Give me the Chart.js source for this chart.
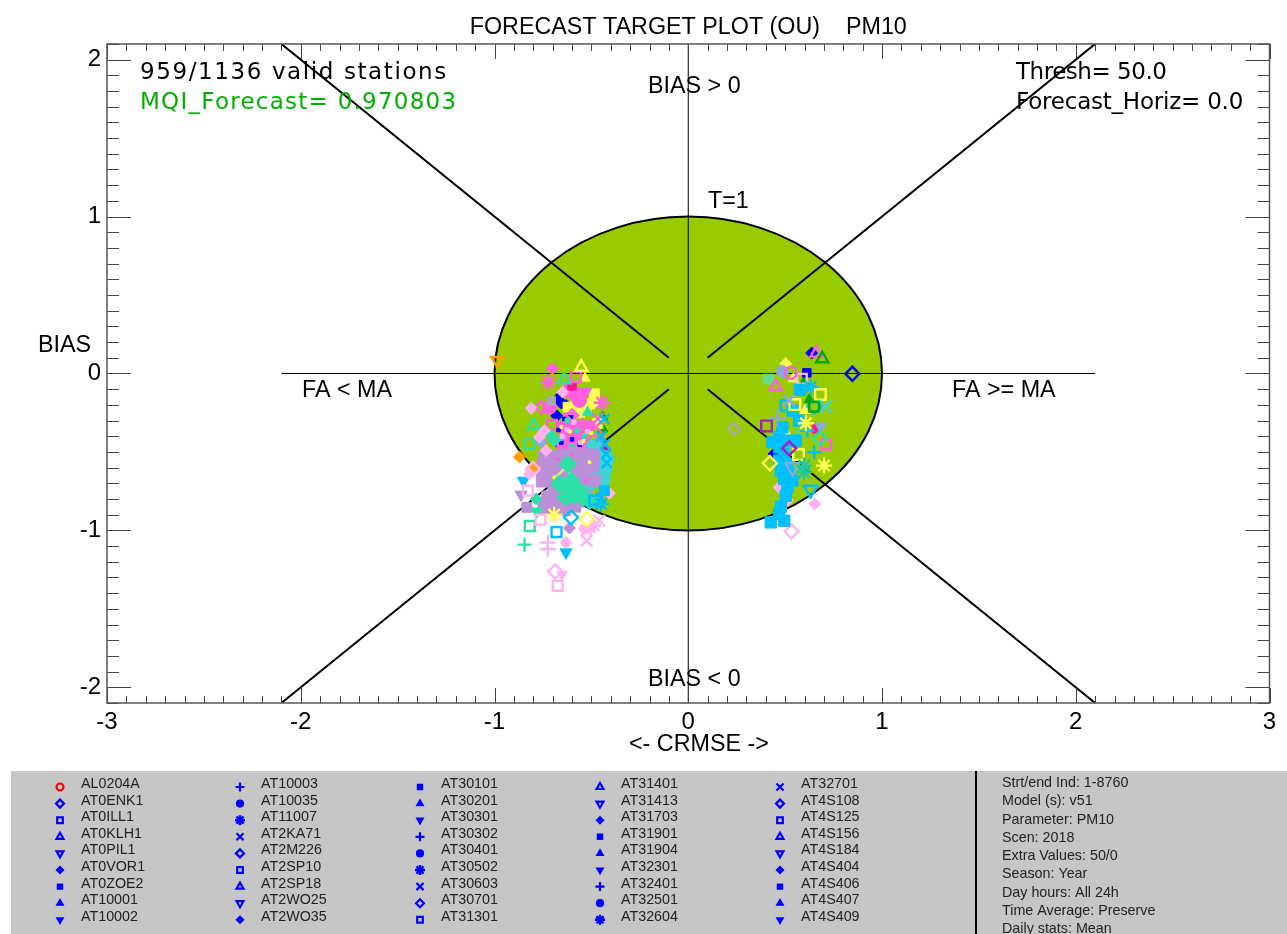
<!DOCTYPE html>
<html>
<head>
<meta charset="utf-8">
<title>Forecast target plot</title>
<script src="https://cdn.jsdelivr.net/npm/chart.js@4"></script>
<style>
html, body { margin: 0; padding: 0; background: #fff; }
canvas { display: block; }
</style>
</head>
<body>
<canvas id="target" width="1287" height="934"></canvas>
<script>
// reference lines of the target diagram
const guideStart = 0.1;
const guideEnd = 2.1;

// station points, grouped by colour and marker
const greenTriX = [-0.442, -0.442, 0.598, 0.624];
const greenTriY = [-0.279, -0.353, -0.055, -0.168];
const blueDiamondX = [-0.656, -0.679, -0.665, -0.674, -0.631, 0.637, 0.443, -0.6];
const blueDiamondY = [-0.187, -0.27, -0.449, -0.162, -0.204, 0.13, -0.513, -0.25];
const blueSquareX = [0.612, -0.751];
const blueSquareY = [0.004, -0.555];
const purpleSmallX = [-0.44];
const purpleSmallY = [-0.474];
const yellowRectX = [-0.485, -0.579, -0.527, -0.485, -0.51, -0.553, -0.467, -0.562, -0.62];
const yellowRectY = [-0.13, -0.204, -0.215, -0.183, -0.194, -0.194, -0.32, -0.25, -0.215];
const yellowTriX = [-0.533, 0.507, 0.543, 0.603];
const yellowTriY = [-0.03, -0.381, -0.034, -0.236];
const pinkCircleX = [-0.596, -0.622, -0.562, -0.716, -0.57];
const pinkCircleY = [-0.119, -0.109, -0.172, -0.215, -0.151];
const pinkInvX = [-0.531, -0.553, 0.512];
const pinkInvY = [-0.119, -0.162, -0.417];
const crimsonX = [-0.6, 0.662];
const crimsonY = [-0.079, -0.353];
const paleFillX = [-0.648, -0.811, -0.768, -0.742, -0.734, -0.82, -0.631, -0.536, -0.502, -0.407, 0.653, 0.469, 0.512];
const paleFillY = [-0.119, -0.221, -0.406, -0.364, -0.491, -0.64, -1.077, -0.991, -0.981, -0.764, -0.832, -0.726, -0.811];
const pinkBlobX = [-0.648, -0.605, -0.562, -0.639, -0.579, -0.622, -0.545, -0.656, -0.51, -0.59, -0.53];
const pinkBlobY = [-0.332, -0.332, -0.332, -0.385, -0.396, -0.449, -0.406, -0.46, -0.33, -0.44, -0.46];
const pinkCrossX = [-0.467, -0.51, -0.562, -0.631, -0.476, -0.46];
const pinkCrossY = [-0.289, -0.364, -0.396, -0.428, -0.34, -0.42];
const pinkStarX = [-0.722, -0.445, -0.596, -0.545, -0.639, -0.527];
const pinkStarY = [-0.055, -0.187, -0.353, -0.332, -0.406, -0.428];
const pinkSquareX = [-0.579, -0.704, -0.613, 0.711];
const pinkSquareY = [-0.023, -0.328, -0.289, -0.453];
const pinkDiamondOpenX = [-0.759, -0.6];
const pinkDiamondOpenY = [-0.215, -0.268];
const pinkDiamondX = [-0.701];
const pinkDiamondY = [0.03];
const tealOpenTriX = [-0.641, -0.797];
const tealOpenTriY = [-0.04, -0.33];
const tealOpenSquareX = [-0.82, -0.818];
const tealOpenSquareY = [-0.449, -0.972];
const tealBlobX = [-0.45, -0.485, -0.433, -0.467, -0.485, -0.442, -0.51, -0.502, -0.424, -0.485];
const tealBlobY = [-0.534, -0.577, -0.609, -0.662, -0.523, -0.672, -0.64, -0.694, -0.545, -0.47];
const cyanCrossX = [-0.433, -0.424, -0.45, -0.45, -0.43, -0.42];
const cyanCrossY = [-0.289, -0.513, -0.79, -0.4, -0.45, -0.57];
const mintTriX = [-0.519];
const mintTriY = [-0.247];
const lilacBlobX = [-0.708, -0.648, -0.588, -0.527, -0.725, -0.665, -0.605, -0.545, -0.493, -0.708, -0.656, -0.588, -0.527, -0.691, -0.622, -0.562, -0.725, -0.674, -0.622, -0.57, -0.527, -0.725, -0.562, -0.742, -0.648, -0.742, -0.691, -0.639, -0.588, -0.751, -0.751, -0.742, -0.493, -0.485];
const lilacBlobY = [-0.534, -0.523, -0.513, -0.523, -0.609, -0.587, -0.587, -0.587, -0.587, -0.672, -0.662, -0.651, -0.64, -0.747, -0.726, -0.726, -0.832, -0.832, -0.832, -0.811, -0.789, -0.789, -0.555, -0.843, -0.853, -0.864, -0.864, -0.864, -0.843, -0.683, -0.6, -0.534, -0.523, -0.683];
const lilacRectX = [-0.833];
const lilacRectY = [-0.853];
const lilacInvX = [-0.863];
const lilacInvY = [-0.772];
const lilacDiamondX = [-0.613];
const lilacDiamondY = [-0.985];
const yellowSpeckX = [-0.648, -0.51, -0.691, -0.579, -0.61, -0.54, -0.655, -0.5];
const yellowSpeckY = [-0.768, -0.566, -0.662, -0.683, -0.37, -0.43, -0.34, -0.38];
const pinkSpeckX = [-0.605, -0.674, -0.527];
const pinkSpeckY = [-0.523, -0.545, -0.683];
const blueSpeckX = [-0.67, -0.6, -0.655, -0.56, -0.64];
const blueSpeckY = [-0.36, -0.42, -0.44, -0.455, -0.29];
const mintSpeckX = [-0.625, -0.575, -0.535, -0.66, -0.6];
const mintSpeckY = [-0.3, -0.365, -0.4, -0.415, -0.465];
const paleSpeckX = [-0.65, -0.59, -0.555, -0.625, -0.52];
const paleSpeckY = [-0.4, -0.31, -0.44, -0.36, -0.37];
const mintBlobX = [-0.622, -0.613, -0.665, -0.562, -0.545, -0.631, -0.51, -0.588, -0.605];
const mintBlobY = [-0.577, -0.726, -0.704, -0.747, -0.789, -0.789, -0.811, -0.779, -0.683];
const mintDiamondX = [-0.785, -0.708, -0.691];
const mintDiamondY = [-0.8, -0.396, -0.428];
const mintInvX = [-0.782];
const mintInvY = [-0.879];
const mintPlusX = [-0.845, 0.564];
const mintPlusY = [-1.091, -0.396];
const mintSquareX = [0.414];
const mintSquareY = [-0.036];
const steelDiamondX = [-0.759];
const steelDiamondY = [-0.438];
const grayRectX = [-0.708];
const grayRectY = [-0.172];
const grayDiamondX = [0.237];
const grayDiamondY = [-0.353];
const orangeDiamondX = [-0.871, -0.794];
const orangeDiamondY = [-0.532, -0.598];
const orangeInvX = [-0.986];
const orangeInvY = [0.083];
const cyanInvX = [-0.851, -0.631];
const cyanInvY = [-0.683, -1.14];
const cyanDiamondOpenX = [-0.605, 0.65];
const cyanDiamondOpenY = [-0.917, -0.211];
const cyanSquareOpenX = [-0.68, -0.485, 0.503];
const cyanSquareOpenY = [-1.011, -0.811, -0.204];
const cyanRectX = [-0.433];
const cyanRectY = [-0.747];
const cyanStarX = [-0.45, 0.632];
const cyanStarY = [-0.832, -0.087];
const yellowStarX = [-0.692, 0.607, 0.701];
const yellowStarY = [-0.9, -0.317, -0.587];
const yellowDiamondX = [-0.524, 0.421];
const yellowDiamondY = [-0.928, -0.572];
const yellowOpenTriX = [-0.552];
const yellowOpenTriY = [0.04];
const paleSquareX = [-0.763, -0.828, -0.674, 0.586];
const paleSquareY = [-0.932, -0.747, -1.353, -0.034];
const paleDiamondX = [-0.802, -0.687, 0.533];
const paleDiamondY = [-0.609, -1.262, -1.006];
const palePlusX = [-0.725, -0.725];
const palePlusY = [-1.077, -1.119];
const paleInvX = [-0.651];
const paleInvY = [-1.279];
const paleCrossX = [-0.527, -0.524, -0.459];
const paleCrossY = [-1.002, -1.066, -0.938];
const paleStarX = [-0.485];
const paleStarY = [-0.97];
const limeDiamondX = [-0.639];
const limeDiamondY = [-0.651];
const cyanBlobX = [0.486, 0.469, 0.512, 0.469, 0.495, 0.469, 0.512, 0.478, 0.521, 0.495, 0.538, 0.512, 0.503, 0.478, 0.426, 0.495, 0.469, 0.435, 0.555, 0.576, 0.538, 0.572];
const cyanBlobY = [-0.343, -0.406, -0.428, -0.47, -0.513, -0.555, -0.577, -0.619, -0.64, -0.672, -0.683, -0.726, -0.779, -0.849, -0.949, -0.938, -0.896, -0.438, -0.428, -0.104, -0.236, -0.3];
const cyanInvOpenX = [0.632];
const cyanInvOpenY = [-0.74];
const cyanPlusX = [0.615, 0.65];
const cyanPlusY = [-0.364, -0.502];
const blueDiamondOpenX = [0.847];
const blueDiamondOpenY = [-0.002];
const pinkOpenTriX = [0.662, 0.452];
const pinkOpenTriY = [0.13, -0.083];
const greenOpenTriX = [0.692];
const greenOpenTriY = [0.094];
const yellowFillDiamondX = [0.503];
const yellowFillDiamondY = [0.062];
const steelCircleX = [0.486];
const steelCircleY = [0.013];
const pinkOpenCircleX = [0.529];
const pinkOpenCircleY = [0.004];
const yellowSquareX = [0.682, 0.55, 0.569];
const yellowSquareY = [-0.134, -0.198, -0.517];
const greenSquareX = [0.65];
const greenSquareY = [-0.211];
const tealCrossX = [0.71];
const tealCrossY = [-0.211];
const steelCrossX = [0.521];
const steelCrossY = [-0.172];
const steelPlusX = [0.46];
const steelPlusY = [-0.283];
const purpleSquareX = [0.404];
const purpleSquareY = [-0.334];
const purpleDiamondX = [0.521];
const purpleDiamondY = [-0.477];
const steelInvX = [0.684];
const steelInvY = [-0.338];
const steelInvOpenX = [0.538];
const steelInvOpenY = [-0.598];
const mintOpenDiamondX = [0.679];
const mintOpenDiamondY = [-0.413];
const tealStarX = [0.598, 0.598];
const tealStarY = [-0.587, -0.63];

// legend panel texts
const stationNames = [
  'AL0204A', 'AT0ENK1', 'AT0ILL1', 'AT0KLH1', 'AT0PIL1', 'AT0VOR1', 'AT0ZOE2', 'AT10001', 'AT10002',
  'AT10003', 'AT10035', 'AT11007', 'AT2KA71', 'AT2M226', 'AT2SP10', 'AT2SP18', 'AT2WO25', 'AT2WO35',
  'AT30101', 'AT30201', 'AT30301', 'AT30302', 'AT30401', 'AT30502', 'AT30603', 'AT30701', 'AT31301',
  'AT31401', 'AT31413', 'AT31703', 'AT31901', 'AT31904', 'AT32301', 'AT32401', 'AT32501', 'AT32604',
  'AT32701', 'AT4S108', 'AT4S125', 'AT4S156', 'AT4S184', 'AT4S404', 'AT4S406', 'AT4S407', 'AT4S409'
];
const infoLines = [
  'Strt/end Ind: 1-8760', 'Model (s): v51', 'Parameter: PM10', 'Scen: 2018', 'Extra Values: 50/0',
  'Season: Year', 'Day hours: All 24h', 'Time Average: Preserve', 'Daily stats: Mean'
];
const legendMarkers = [
  'oc', 'od', 'os', 'ot', 'oi', 'fd', 'fs', 'ft', 'fi',
  'pl', 'fc', 'st', 'xx', 'od', 'os', 'ot', 'oi', 'fd',
  'fs', 'ft', 'fi', 'pl', 'fc', 'st', 'xx', 'od', 'os',
  'ot', 'oi', 'fd', 'fs', 'ft', 'fi', 'pl', 'fc', 'st',
  'xx', 'od', 'os', 'ot', 'oi', 'fd', 'fs', 'ft', 'fi'
];

const markerStyles = {
  oc: { pointStyle: 'circle', open: true, small: 3.5 },
  od: { pointStyle: 'rectRot', open: true, small: 4 },
  os: { pointStyle: 'rect', open: true, small: 4 },
  ot: { pointStyle: 'triangle', open: true, small: 4 },
  oi: { pointStyle: 'triangle', open: true, rotation: 180, small: 4 },
  fc: { pointStyle: 'circle', small: 3 },
  fd: { pointStyle: 'rectRot', small: 3 },
  fs: { pointStyle: 'rect', small: 3 },
  ft: { pointStyle: 'triangle', small: 3 },
  fi: { pointStyle: 'triangle', rotation: 180, small: 3 },
  pl: { pointStyle: 'cross', open: true, small: 4.5 },
  xx: { pointStyle: 'crossRot', open: true, small: 5 },
  st: { pointStyle: 'star', open: true, small: 5, bold: true }
};

const LILAC = '#BC8FD8', MINT = '#2EE0A8', TEAL = '#3FD3D3', PINK = '#FF5FE0', PALE = '#FFB3F0',
  CYAN = '#00BFFF', YELLOW = '#FFFF55', BLUE = '#0000FF', GREEN = '#00A800', PURPLE = '#A020C0',
  ORANGE = '#FFA000', GRAY = '#AAAAAA', STEEL = '#88AADD', CRIMSON = '#FF1493', LIME = '#CCEE77';

// painted in this order, the later ones on top
const groups = [
  [greenTriX, greenTriY, GREEN, 'ft'],
  [blueDiamondX, blueDiamondY, BLUE, 'fd'],
  [blueSquareX, blueSquareY, BLUE, 'fs'],
  [purpleSmallX, purpleSmallY, PURPLE, 'fd'],
  [yellowRectX, yellowRectY, YELLOW, 'fs', 7],
  [yellowTriX, yellowTriY, YELLOW, 'ft'],
  [pinkCircleX, pinkCircleY, PINK, 'fc', 7],
  [pinkInvX, pinkInvY, PINK, 'fi', 7],
  [crimsonX, crimsonY, CRIMSON, 'fs'],
  [pinkBlobX, pinkBlobY, PINK, 'fs', 6],
  [pinkCrossX, pinkCrossY, PINK, 'xx', 8],
  [pinkStarX, pinkStarY, PINK, 'st', 8],
  [pinkSquareX, pinkSquareY, PINK, 'os', 7],
  [pinkDiamondOpenX, pinkDiamondOpenY, PINK, 'od'],
  [pinkDiamondX, pinkDiamondY, PINK, 'fd'],
  [blueSpeckX, blueSpeckY, BLUE, 'fs', 2.5],
  [mintSpeckX, mintSpeckY, MINT, 'fs', 3],
  [paleSpeckX, paleSpeckY, PALE, 'fs', 3],
  [tealOpenTriX, tealOpenTriY, MINT, 'ot', 7],
  [tealOpenSquareX, tealOpenSquareY, MINT, 'os', 7],
  [tealBlobX, tealBlobY, TEAL, 'fc', 8],
  [cyanCrossX, cyanCrossY, CYAN, 'xx', 7],
  [mintTriX, mintTriY, MINT, 'ft'],
  [lilacBlobX, lilacBlobY, LILAC, 'fs', 9],
  [lilacRectX, lilacRectY, LILAC, 'fs', 7],
  [lilacInvX, lilacInvY, LILAC, 'fi', 7],
  [lilacDiamondX, lilacDiamondY, LILAC, 'fd'],
  [yellowSpeckX, yellowSpeckY, YELLOW, 'fs', 2],
  [pinkSpeckX, pinkSpeckY, PINK, 'fs', 2],
  [limeDiamondX, limeDiamondY, LIME, 'od', 7],
  [mintBlobX, mintBlobY, MINT, 'fd', 9],
  [mintDiamondX, mintDiamondY, MINT, 'fd'],
  [mintInvX, mintInvY, MINT, 'fi', 7],
  [mintPlusX, mintPlusY, MINT, 'pl', 7],
  [mintSquareX, mintSquareY, '#66DD88', 'fs', 7],
  [steelDiamondX, steelDiamondY, STEEL, 'fd'],
  [grayRectX, grayRectY, GRAY, 'fs'],
  [grayDiamondX, grayDiamondY, GRAY, 'od'],
  [orangeDiamondX, orangeDiamondY, ORANGE, 'fd'],
  [orangeInvX, orangeInvY, ORANGE, 'oi', 7],
  [cyanInvX, cyanInvY, CYAN, 'fi', 7],
  [paleFillX, paleFillY, PALE, 'fd'],
  [paleSquareX, paleSquareY, PALE, 'os', 7],
  [paleDiamondX, paleDiamondY, PALE, 'od', 7],
  [palePlusX, palePlusY, PALE, 'pl', 8],
  [paleInvX, paleInvY, PALE, 'fi'],
  [paleCrossX, paleCrossY, PALE, 'xx', 8],
  [paleStarX, paleStarY, PALE, 'st', 7],
  [cyanBlobX, cyanBlobY, CYAN, 'fs', 8],
  [cyanDiamondOpenX, cyanDiamondOpenY, CYAN, 'od', 7],
  [cyanSquareOpenX, cyanSquareOpenY, CYAN, 'os', 7],
  [cyanRectX, cyanRectY, CYAN, 'fs', 7],
  [cyanStarX, cyanStarY, CYAN, 'st', 8],
  [cyanInvOpenX, cyanInvOpenY, CYAN, 'oi', 8],
  [cyanPlusX, cyanPlusY, CYAN, 'pl', 7],
  [yellowStarX, yellowStarY, YELLOW, 'st', 8],
  [yellowDiamondX, yellowDiamondY, YELLOW, 'od', 7],
  [yellowOpenTriX, yellowOpenTriY, YELLOW, 'ot', 7],
  [yellowFillDiamondX, yellowFillDiamondY, YELLOW, 'fd'],
  [yellowSquareX, yellowSquareY, YELLOW, 'os', 7.5],
  [blueDiamondOpenX, blueDiamondOpenY, BLUE, 'od', 7],
  [pinkOpenTriX, pinkOpenTriY, PINK, 'ot', 7],
  [greenOpenTriX, greenOpenTriY, GREEN, 'ot', 7],
  [steelCircleX, steelCircleY, STEEL, 'fc', 6],
  [pinkOpenCircleX, pinkOpenCircleY, PINK, 'oc'],
  [greenSquareX, greenSquareY, GREEN, 'os', 7],
  [tealCrossX, tealCrossY, TEAL, 'xx', 9],
  [steelCrossX, steelCrossY, STEEL, 'xx', 8],
  [steelPlusX, steelPlusY, STEEL, 'pl', 8],
  [purpleSquareX, purpleSquareY, PURPLE, 'os', 7.5],
  [purpleDiamondX, purpleDiamondY, PURPLE, 'od', 7],
  [steelInvX, steelInvY, STEEL, 'fi', 7],
  [steelInvOpenX, steelInvOpenY, STEEL, 'oi', 8],
  [mintOpenDiamondX, mintOpenDiamondY, MINT, 'od', 7],
  [tealStarX, tealStarY, '#20C8A0', 'st', 8]
];

function pairs(xs, ys) {
  return xs.map((x, i) => ({ x: x, y: ys[i] }));
}

function pointDataset(group) {
  const m = markerStyles[group[3]];
  return {
    data: pairs(group[0], group[1]),
    showLine: false,
    pointStyle: m.pointStyle,
    rotation: m.rotation || 0,
    pointRadius: group[4] || 6,
    pointBorderWidth: m.open ? 2.4 : 1,
    pointBorderColor: group[2],
    pointBackgroundColor: m.open ? 'rgba(0,0,0,0)' : group[2]
  };
}

function guideDataset(xs, ys, width) {
  return {
    data: pairs(xs, ys),
    showLine: true,
    pointRadius: 0,
    borderColor: '#000',
    borderWidth: width
  };
}

const guides = [
  guideDataset([-guideEnd, guideEnd], [0, 0], 1),
  guideDataset([0, 0], [-guideEnd, guideEnd], 1),
  guideDataset([guideStart, guideEnd], [guideStart, guideEnd], 2),
  guideDataset([-guideStart, -guideEnd], [guideStart, guideEnd], 2),
  guideDataset([guideStart, guideEnd], [-guideStart, -guideEnd], 2),
  guideDataset([-guideStart, -guideEnd], [-guideStart, -guideEnd], 2)
];

// chart.js paints the first dataset last
const datasets = guides.concat(groups.map(pointDataset)).reverse();

function tenthTicks(scale) {
  const out = [];
  const lo = Math.ceil(scale.min * 10 - 1e-6);
  const hi = Math.floor(scale.max * 10 + 1e-6);
  for (let i = lo; i <= hi; i++) out.push({ value: i / 10 });
  scale.ticks = out;
}

function label(ctx, text, x, y, font, color, align, spacing) {
  ctx.font = font;
  ctx.fillStyle = color || '#000';
  ctx.textAlign = align || 'left';
  ctx.textBaseline = 'alphabetic';
  ctx.letterSpacing = spacing || '0px';
  ctx.fillText(text, x, y);
  ctx.letterSpacing = '0px';
}

const targetCircle = {
  id: 'targetCircle',
  beforeDatasetsDraw(chart) {
    const { ctx, scales: { x, y } } = chart;
    ctx.save();
    ctx.beginPath();
    ctx.ellipse(x.getPixelForValue(0), y.getPixelForValue(0),
      x.getPixelForValue(1) - x.getPixelForValue(0),
      y.getPixelForValue(0) - y.getPixelForValue(1), 0, 0, Math.PI * 2);
    ctx.fillStyle = '#99CC00';
    ctx.fill();
    ctx.lineWidth = 2;
    ctx.strokeStyle = '#000';
    ctx.stroke();
    ctx.restore();
  }
};

const frameAndText = {
  id: 'frameAndText',
  afterDatasetsDraw(chart) {
    const { ctx, chartArea: a, scales: { x, y } } = chart;
    ctx.save();
    ctx.strokeStyle = '#444';
    ctx.lineWidth = 1;
    ctx.beginPath();
    x.ticks.forEach(t => {
      const px = Math.round(x.getPixelForValue(t.value)) + 0.5;
      const len = Number.isInteger(t.value) ? 15 : 7;
      ctx.moveTo(px, a.bottom); ctx.lineTo(px, a.bottom - len);
      ctx.moveTo(px, a.top); ctx.lineTo(px, a.top + len);
    });
    y.ticks.forEach(t => {
      const py = Math.round(y.getPixelForValue(t.value)) + 0.5;
      const len = Number.isInteger(t.value) ? 24 : 12;
      ctx.moveTo(a.left, py); ctx.lineTo(a.left + len, py);
      ctx.moveTo(a.right, py); ctx.lineTo(a.right - len, py);
    });
    ctx.stroke();
    ctx.lineWidth = 1.5;
    ctx.strokeStyle = '#555';
    ctx.strokeRect(a.left, a.top, a.right - a.left, a.bottom - a.top);

    const sans = '23.3px "Liberation Sans"';
    label(ctx, 'BIAS > 0', 648, 93, sans);
    label(ctx, 'T=1', 708, 208, sans);
    label(ctx, 'FA < MA', 302, 397, sans);
    label(ctx, 'FA >= MA', 952, 397, sans);
    label(ctx, 'BIAS < 0', 648, 686, sans);
    label(ctx, 'BIAS', 38, 352, sans);
    label(ctx, '<- CRMSE ->', 629, 751, sans);

    const vector = '23px "DejaVu Sans"';
    label(ctx, '959/1136 valid stations', 140, 79, vector, '#000', 'left', '1.6px');
    label(ctx, 'MQI_Forecast= 0.970803', 140, 109, vector, '#00B000', 'left', '1.25px');
    label(ctx, 'Thresh= 50.0', 1016, 79, vector, '#000', 'left', '-0.47px');
    label(ctx, 'Forecast_Horiz= 0.0', 1016, 109, vector, '#000', 'left', '-0.22px');
    ctx.restore();
  },
  afterDraw(chart) {
    const ctx = chart.ctx;
    ctx.save();
    ctx.fillStyle = '#C6C6C6';
    ctx.fillRect(11, 771, 1276, 163);
    ctx.fillStyle = '#000';
    ctx.fillRect(975, 771, 2, 163);

    const colX = [60, 240, 420, 600, 780];
    stationNames.forEach((name, i) => {
      const col = Math.floor(i / 9);
      const row = i % 9;
      const ty = 788 + row * 16.6;
      label(ctx, name, colX[col] + 21, ty, '14.3px "Liberation Sans"', '#222');
      const m = markerStyles[legendMarkers[i]];
      const color = i === 0 ? '#FF0000' : BLUE;
      ctx.strokeStyle = color;
      ctx.fillStyle = m.open ? 'rgba(0,0,0,0)' : color;
      ctx.lineWidth = m.bold ? 2.5 : 2.2;
      Chart.helpers.drawPoint(ctx, {
        pointStyle: m.pointStyle,
        rotation: m.rotation || 0,
        radius: m.small,
        borderWidth: ctx.lineWidth
      }, colX[col], ty - 1);
    });
    infoLines.forEach((line, i) => {
      label(ctx, line, 1002, 787 + i * 18.25, '14.3px "Liberation Sans"', '#222');
    });
    ctx.restore();
  }
};

new Chart(document.getElementById('target'), {
  type: 'scatter',
  data: { datasets: datasets },
  plugins: [targetCircle, frameAndText],
  options: {
    responsive: false,
    animation: false,
    devicePixelRatio: 1,
    events: [],
    layout: { padding: { left: 0, right: 17.5, top: 0, bottom: 171 } },
    plugins: {
      legend: { display: false },
      tooltip: { enabled: false },
      title: {
        display: true,
        fullSize: false,
        text: 'FORECAST TARGET PLOT (OU)    PM10',
        color: '#000',
        font: { family: '"Liberation Sans"', size: 23.3, weight: 'normal', lineHeight: 1.2 },
        padding: { top: 14, bottom: 2 }
      }
    },
    scales: {
      x: {
        type: 'linear',
        min: -3,
        max: 3,
        grid: { display: false, drawTicks: false },
        border: { display: false },
        afterBuildTicks: tenthTicks,
        afterFit: s => { s.height = 60; },
        ticks: {
          autoSkip: false,
          maxRotation: 0,
          padding: 5,
          color: '#000',
          font: { family: '"Liberation Sans"', size: 24 },
          callback: v => Number.isInteger(v) ? String(v) : ''
        }
      },
      y: {
        type: 'linear',
        min: -2.1,
        max: 2.1,
        grid: { display: false, drawTicks: false },
        border: { display: false },
        afterBuildTicks: tenthTicks,
        afterFit: s => { s.width = 107; },
        ticks: {
          autoSkip: false,
          padding: 6,
          color: '#000',
          font: { family: '"Liberation Sans"', size: 24 },
          callback: v => Number.isInteger(v) ? String(v) : ''
        }
      }
    }
  }
});
</script>
</body>
</html>
